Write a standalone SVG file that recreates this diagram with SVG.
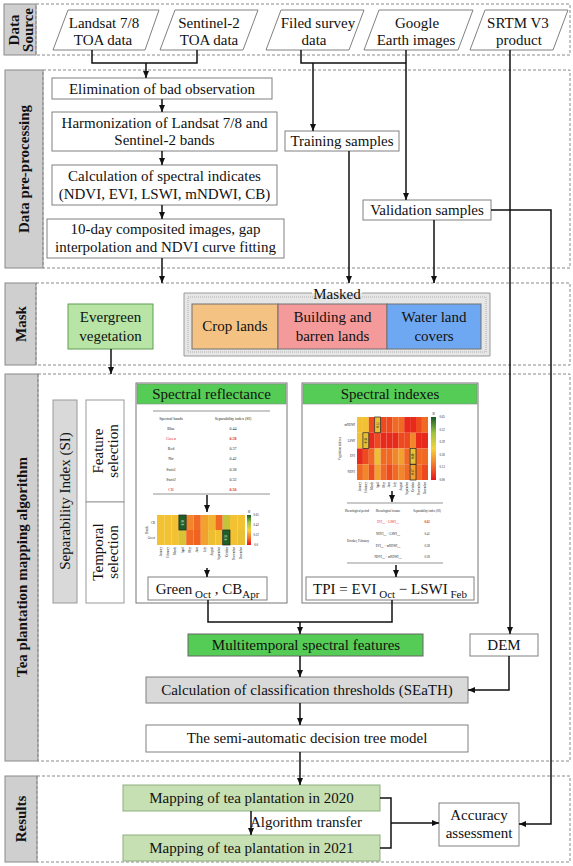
<svg xmlns="http://www.w3.org/2000/svg" width="573" height="866" viewBox="0 0 573 866">
<defs>
<marker id="ah" markerWidth="7" markerHeight="6" refX="7" refY="3" orient="auto" markerUnits="userSpaceOnUse"><path d="M0,0 L7,3 L0,6 z" fill="#111"/></marker>
<linearGradient id="cbar" x1="0" y1="1" x2="0" y2="0"><stop offset="0" stop-color="#e8141c"/><stop offset="0.25" stop-color="#f4792a"/><stop offset="0.5" stop-color="#f6d23a"/><stop offset="0.75" stop-color="#9cc43c"/><stop offset="1" stop-color="#145a28"/></linearGradient>
</defs>
<style>
.t{font-family:"Liberation Serif","Times New Roman",serif;font-size:15px;fill:#111;text-anchor:middle}
.b{font-weight:bold}
.lab{fill:#cfcfcf;stroke:#8a8a8a;stroke-width:1}
.dash{fill:none;stroke:#8a8a8a;stroke-width:1;stroke-dasharray:3,2}
.box{fill:#fff;stroke:#808080;stroke-width:1}
.c{fill:none;stroke:#111;stroke-width:1.5}
.ar{marker-end:url(#ah)}
.s{font-family:"Liberation Serif","Times New Roman",serif;font-size:4px;fill:#222;text-anchor:middle}
.x{font-family:"Liberation Serif","Times New Roman",serif;font-size:3px;fill:#222;text-anchor:middle}
.m{font-family:"Liberation Serif","Times New Roman",serif;font-size:3px;fill:#222;text-anchor:end}
.red{fill:#e0201c}
.tl{stroke:#666;stroke-width:0.7}
.hb{fill:none;stroke:#222;stroke-width:0.7}
</style>

<g id="sections">
<rect class="lab" x="4" y="4" width="32" height="51"/>
<rect class="dash" x="36" y="4" width="534" height="51"/>
<text class="t b" font-size="14" transform="translate(19,30) rotate(-90)">Data</text>
<text class="t b" font-size="14" transform="translate(32.5,30) rotate(-90)">Source</text>
<rect class="lab" x="5" y="70" width="38" height="198"/>
<rect class="dash" x="43" y="70" width="527" height="198"/>
<text class="t b" transform="translate(29,169) rotate(-90)">Data pre-processing</text>
<rect class="lab" x="5" y="283" width="31" height="82"/>
<rect class="dash" x="36" y="283" width="534" height="82"/>
<text class="t b" transform="translate(26,324) rotate(-90)">Mask</text>
<rect class="lab" x="5" y="374" width="33" height="387"/>
<rect class="dash" x="38" y="374" width="532" height="387"/>
<text class="t b" transform="translate(27,567) rotate(-90)">Tea plantation mapping algorithm</text>
<rect class="lab" x="5" y="776" width="32" height="86"/>
<rect class="dash" x="37" y="776" width="533" height="86"/>
<text class="t b" transform="translate(26,819) rotate(-90)">Results</text>
</g>

<g id="landsat"><polygon class="box" points="68,10 159,10 145,50 53,50"/><text class="t" x="104" y="28">Landsat 7/8</text><text class="t" x="103" y="45">TOA data</text></g>
<g id="sentinel"><polygon class="box" points="175,10 258,10 243,50 160,50"/><text class="t" x="209" y="28">Sentinel-2</text><text class="t" x="209" y="45">TOA data</text></g>
<g id="survey"><polygon class="box" points="281,10 364,10 349,50 266,50"/><text class="t" x="318" y="28">Filed survey</text><text class="t" x="314" y="45">data</text></g>
<g id="google"><polygon class="box" points="379,10 473,10 458,50 364,50"/><text class="t" x="417" y="28">Google</text><text class="t" x="416" y="45">Earth images</text></g>
<g id="srtm"><polygon class="box" points="485,10 568,10 553,50 470,50"/><text class="t" x="518" y="28">SRTM V3</text><text class="t" x="519" y="45">product</text></g>

<g id="elimination"><rect class="box" x="52" y="78" width="220" height="21"/><text class="t" x="162" y="93.5">Elimination of bad observation</text></g>
<g id="harmonization"><rect class="box" x="52" y="112" width="225" height="39"/><text class="t" x="164.5" y="128">Harmonization of Landsat 7/8 and</text><text class="t" x="164.5" y="145">Sentinel-2 bands</text></g>
<g id="calculation"><rect class="box" x="52" y="165" width="225" height="40"/><text class="t" x="164.5" y="181">Calculation of spectral indicates</text><text class="t" x="164.5" y="199">(NDVI, EVI, LSWI, mNDWI, CB)</text></g>
<g id="composite"><rect class="box" x="47" y="219" width="237" height="39"/><text class="t" x="165.5" y="234">10-day composited images, gap</text><text class="t" x="165.5" y="252">interpolation and NDVI curve fitting</text></g>
<g id="training"><rect class="box" x="285" y="131" width="114" height="20"/><text class="t" x="342" y="146">Training samples</text></g>
<g id="validation"><rect class="box" x="363" y="200" width="128" height="20"/><text class="t" x="427" y="215">Validation samples</text></g>

<g id="evergreen"><rect x="68" y="304" width="85" height="45" fill="#b8e5a6" stroke="#5f9e50"/><text class="t" x="110.5" y="322">Evergreen</text><text class="t" x="110.5" y="341">vegetation</text></g>
<g id="masked">
<rect x="184" y="293" width="306" height="63" fill="#e6e6e6"/>
<path d="M312,293 H184 V356 H490 V293 H362" fill="none" stroke="#9a9a9a"/>
<rect x="188" y="297" width="298" height="55" fill="none" stroke="#b0b0b0" stroke-dasharray="1,1"/>
<text class="t" x="337" y="299">Masked</text>
<rect x="192" y="304" width="86" height="45" fill="#f4c283" stroke="#707070"/>
<rect x="278" y="304" width="109" height="45" fill="#f59a9a" stroke="#707070"/>
<rect x="387" y="304" width="94" height="45" fill="#6fa8f2" stroke="#707070"/>
<text class="t" x="235" y="331">Crop lands</text>
<text class="t" x="332.5" y="322">Building and</text><text class="t" x="332.5" y="341">barren lands</text>
<text class="t" x="434" y="322">Water land</text><text class="t" x="434" y="341">covers</text>
</g>

<g id="si">
<rect x="53" y="400" width="24" height="203" fill="#d9d9d9" stroke="#999"/>
<text class="t" font-size="14" transform="translate(70,501) rotate(-90)">Separability Index (SI)</text>
</g>
<g id="feature-selection"><rect x="86" y="400" width="38" height="102" fill="#fff" stroke="#999"/><text class="t" font-size="14" transform="translate(103,451) rotate(-90)">Feature</text><text class="t" font-size="14" transform="translate(118,451) rotate(-90)">selection</text></g>
<g id="temporal-selection"><rect x="86" y="502" width="38" height="101" fill="#fff" stroke="#999"/><text class="t" font-size="14" transform="translate(103,552) rotate(-90)">Temporal</text><text class="t" font-size="14" transform="translate(118,552) rotate(-90)">selection</text></g>

<g id="spectral-reflectance">
<rect x="136" y="383" width="151" height="220" fill="#fff" stroke="#777"/>
<rect x="137" y="384" width="149" height="20" fill="#55cc55" stroke="#888" stroke-width="0.6"/>
<text class="t" x="211.5" y="399">Spectral reflectance</text>
<line class="tl" x1="153" y1="411" x2="270" y2="411"/>
<text class="s" x="171" y="419.5">Spectral bands</text><text class="s" x="233" y="419.5">Separability index (SI)</text>
<text class="s" x="171" y="429.5">Blue</text><text class="s" x="233" y="429.5">0.44</text>
<text class="s red" x="171" y="439.5">Green</text><text class="s red b" x="233" y="439.5">0.58</text>
<text class="s" x="171" y="450">Red</text><text class="s" x="233" y="450">0.37</text>
<text class="s" x="171" y="460">Nir</text><text class="s" x="233" y="460">0.42</text>
<text class="s" x="171" y="470.5">Swir1</text><text class="s" x="233" y="470.5">0.38</text>
<text class="s" x="171" y="480.5">Swir2</text><text class="s" x="233" y="480.5">0.32</text>
<text class="s red" x="171" y="490.5">CB</text><text class="s red b" x="233" y="490.5">0.50</text>
<line class="tl" x1="153" y1="494" x2="270" y2="494"/>
<g id="heatmap-reflectance">
<rect x="157" y="515" width="7.3" height="15" fill="#f2c232"/><rect x="164.3" y="515" width="7.3" height="15" fill="#f2c232"/><rect x="171.6" y="515" width="7.3" height="15" fill="#f2c232"/><rect x="178.9" y="515" width="7.3" height="15" fill="#1f5f2a"/><rect x="186.2" y="515" width="7.3" height="15" fill="#f2862a"/><rect x="193.5" y="515" width="7.3" height="15" fill="#f06a24"/><rect x="200.8" y="515" width="7.3" height="15" fill="#f2a02e"/><rect x="208.1" y="515" width="7.3" height="15" fill="#f2b430"/><rect x="215.4" y="515" width="7.3" height="15" fill="#f06a24"/><rect x="222.7" y="515" width="7.3" height="15" fill="#c4c43a"/><rect x="230" y="515" width="7.3" height="15" fill="#f2c232"/><rect x="237.3" y="515" width="7.7" height="15" fill="#f2c232"/>
<rect x="157" y="530" width="7.3" height="15" fill="#f2c232"/><rect x="164.3" y="530" width="7.3" height="15" fill="#f2c232"/><rect x="171.6" y="530" width="7.3" height="15" fill="#f2c232"/><rect x="178.9" y="530" width="7.3" height="15" fill="#d8c236"/><rect x="186.2" y="530" width="7.3" height="15" fill="#f06a24"/><rect x="193.5" y="530" width="7.3" height="15" fill="#f0621f"/><rect x="200.8" y="530" width="7.3" height="15" fill="#f2a02e"/><rect x="208.1" y="530" width="7.3" height="15" fill="#ecbe32"/><rect x="215.4" y="530" width="7.3" height="15" fill="#f2c232"/><rect x="222.7" y="530" width="7.3" height="15" fill="#1f5f2a"/><rect x="230" y="530" width="7.3" height="15" fill="#f2c232"/><rect x="237.3" y="530" width="7.7" height="15" fill="#e8c234"/>
<rect class="hb" x="178.9" y="515" width="7.3" height="15"/><rect class="hb" x="222.7" y="530" width="7.3" height="15"/>
<text class="x" fill="#dde" transform="translate(183.6,522.5) rotate(-90)" style="fill:#d8e8d0">0.50</text>
<text class="x" transform="translate(227.4,537.5) rotate(-90)" style="fill:#d8e8d0">0.58</text>
<rect x="247" y="515" width="4" height="30" fill="url(#cbar)"/>
<text class="x" x="249" y="513">SI</text>
<text class="x" x="256" y="516">0.65</text><text class="x" x="256" y="526">0.43</text><text class="x" x="256" y="536">0.22</text><text class="x" x="256" y="546">0.0</text>
<text class="m" x="155" y="523.5">CB</text><text class="m" x="155" y="538.5">Green</text>
<text class="x" transform="translate(148,530) rotate(-90)">Bands</text>
<text class="m" transform="translate(161.8,547) rotate(-90)">January</text><text class="m" transform="translate(169.1,547) rotate(-90)">February</text><text class="m" transform="translate(176.4,547) rotate(-90)">March</text><text class="m" transform="translate(183.7,547) rotate(-90)">April</text><text class="m" transform="translate(191,547) rotate(-90)">May</text><text class="m" transform="translate(198.3,547) rotate(-90)">June</text><text class="m" transform="translate(205.6,547) rotate(-90)">July</text><text class="m" transform="translate(212.9,547) rotate(-90)">August</text><text class="m" transform="translate(220.2,547) rotate(-90)">September</text><text class="m" transform="translate(227.5,547) rotate(-90)">October</text><text class="m" transform="translate(234.8,547) rotate(-90)">November</text><text class="m" transform="translate(242.1,547) rotate(-90)">December</text>
</g>
</g>
<g id="green-cb"><rect class="box" x="148" y="577" width="119" height="23"/><text class="t" font-size="16" x="207.5" y="594">Green<tspan font-size="11" dy="4"> Oct</tspan><tspan dy="-4"> , CB</tspan><tspan font-size="11" dy="4">Apr</tspan></text></g>

<g id="spectral-indexes">
<rect x="302" y="383" width="176" height="220" fill="#fff" stroke="#777"/>
<rect x="303" y="384" width="174" height="20" fill="#55cc55" stroke="#888" stroke-width="0.6"/>
<text class="t" x="390" y="399">Spectral indexes</text>
<g id="heatmap-indexes">
<rect x="357" y="417" width="5.9" height="15.75" fill="#f2c232"/><rect x="362.9" y="417" width="5.9" height="15.75" fill="#f2c232"/><rect x="368.8" y="417" width="5.9" height="15.75" fill="#ee4a20"/><rect x="374.7" y="417" width="5.9" height="15.75" fill="#eac034"/><rect x="380.6" y="417" width="5.9" height="15.75" fill="#ee4a20"/><rect x="386.5" y="417" width="5.9" height="15.75" fill="#ee4a20"/><rect x="392.4" y="417" width="5.9" height="15.75" fill="#f06a24"/><rect x="398.3" y="417" width="5.9" height="15.75" fill="#f06a24"/><rect x="404.2" y="417" width="5.9" height="15.75" fill="#e82a1c"/><rect x="410.1" y="417" width="5.9" height="15.75" fill="#e82a1c"/><rect x="416" y="417" width="5.9" height="15.75" fill="#ee4a20"/><rect x="421.9" y="417" width="6.1" height="15.75" fill="#f06a24"/>
<rect x="357" y="432.75" width="5.9" height="15.75" fill="#f2c232"/><rect x="362.9" y="432.75" width="5.9" height="15.75" fill="#e4c036"/><rect x="368.8" y="432.75" width="5.9" height="15.75" fill="#e82a1c"/><rect x="374.7" y="432.75" width="5.9" height="15.75" fill="#ee4a20"/><rect x="380.6" y="432.75" width="5.9" height="15.75" fill="#e82a1c"/><rect x="386.5" y="432.75" width="5.9" height="15.75" fill="#e82a1c"/><rect x="392.4" y="432.75" width="5.9" height="15.75" fill="#e82a1c"/><rect x="398.3" y="432.75" width="5.9" height="15.75" fill="#ee4a20"/><rect x="404.2" y="432.75" width="5.9" height="15.75" fill="#ee4a20"/><rect x="410.1" y="432.75" width="5.9" height="15.75" fill="#f2862a"/><rect x="416" y="432.75" width="5.9" height="15.75" fill="#e82a1c"/><rect x="421.9" y="432.75" width="6.1" height="15.75" fill="#e82a1c"/>
<rect x="357" y="448.5" width="5.9" height="15.75" fill="#e82a1c"/><rect x="362.9" y="448.5" width="5.9" height="15.75" fill="#ee4a20"/><rect x="368.8" y="448.5" width="5.9" height="15.75" fill="#f06a24"/><rect x="374.7" y="448.5" width="5.9" height="15.75" fill="#eac034"/><rect x="380.6" y="448.5" width="5.9" height="15.75" fill="#f06a24"/><rect x="386.5" y="448.5" width="5.9" height="15.75" fill="#f06a24"/><rect x="392.4" y="448.5" width="5.9" height="15.75" fill="#f2862a"/><rect x="398.3" y="448.5" width="5.9" height="15.75" fill="#f2a02e"/><rect x="404.2" y="448.5" width="5.9" height="15.75" fill="#f06a24"/><rect x="410.1" y="448.5" width="5.9" height="15.75" fill="#e6c036"/><rect x="416" y="448.5" width="5.9" height="15.75" fill="#f06a24"/><rect x="421.9" y="448.5" width="6.1" height="15.75" fill="#f06a24"/>
<rect x="357" y="464.25" width="5.9" height="15.75" fill="#f06a24"/><rect x="362.9" y="464.25" width="5.9" height="15.75" fill="#f2862a"/><rect x="368.8" y="464.25" width="5.9" height="15.75" fill="#ee4a20"/><rect x="374.7" y="464.25" width="5.9" height="15.75" fill="#f2a02e"/><rect x="380.6" y="464.25" width="5.9" height="15.75" fill="#f06a24"/><rect x="386.5" y="464.25" width="5.9" height="15.75" fill="#ee4a20"/><rect x="392.4" y="464.25" width="5.9" height="15.75" fill="#f06a24"/><rect x="398.3" y="464.25" width="5.9" height="15.75" fill="#f2862a"/><rect x="404.2" y="464.25" width="5.9" height="15.75" fill="#f06a24"/><rect x="410.1" y="464.25" width="5.9" height="15.75" fill="#f2a02e"/><rect x="416" y="464.25" width="5.9" height="15.75" fill="#f06a24"/><rect x="421.9" y="464.25" width="6.1" height="15.75" fill="#ee4a20"/>
<rect class="hb" x="374.7" y="417" width="5.9" height="15.75"/><rect class="hb" x="362.9" y="432.75" width="5.9" height="15.75"/><rect class="hb" x="410.1" y="448.5" width="5.9" height="15.75"/><rect class="hb" x="410.1" y="464.25" width="5.9" height="15.75"/>
<text class="x" font-size="2.6" transform="translate(378.6,424.9) rotate(-90)">0.32</text>
<text class="x" font-size="2.6" transform="translate(366.8,440.6) rotate(-90)">0.38</text>
<text class="x" font-size="2.6" transform="translate(414,456.4) rotate(-90)">0.40</text>
<text class="x" font-size="2.6" transform="translate(414,472.1) rotate(-90)">0.37</text>
<rect x="431" y="417" width="5" height="63" fill="url(#cbar)"/>
<text class="x" x="433.5" y="415">SI</text>
<text class="x" font-size="2.6" x="442" y="418">0.65</text><text class="x" font-size="2.6" x="442" y="430.6">0.52</text><text class="x" font-size="2.6" x="442" y="443.2">0.39</text><text class="x" font-size="2.6" x="442" y="455.8">0.26</text><text class="x" font-size="2.6" x="442" y="468.4">0.13</text><text class="x" font-size="2.6" x="442" y="481">0.00</text>
<text class="m" font-size="2.6" x="355" y="425.8">mNDWI</text><text class="m" font-size="2.6" x="355" y="441.6">LSWI</text><text class="m" font-size="2.6" x="355" y="457.3">EVI</text><text class="m" font-size="2.6" x="355" y="473.1">NDVI</text>
<text class="x" font-size="2.8" transform="translate(341,448.5) rotate(-90)">Vegetation indexes</text>
<text class="m" font-size="2.6" transform="translate(360.9,482) rotate(-90)">January</text><text class="m" font-size="2.6" transform="translate(366.8,482) rotate(-90)">February</text><text class="m" font-size="2.6" transform="translate(372.7,482) rotate(-90)">March</text><text class="m" font-size="2.6" transform="translate(378.6,482) rotate(-90)">April</text><text class="m" font-size="2.6" transform="translate(384.5,482) rotate(-90)">May</text><text class="m" font-size="2.6" transform="translate(390.4,482) rotate(-90)">June</text><text class="m" font-size="2.6" transform="translate(396.3,482) rotate(-90)">July</text><text class="m" font-size="2.6" transform="translate(402.2,482) rotate(-90)">August</text><text class="m" font-size="2.6" transform="translate(408.1,482) rotate(-90)">September</text><text class="m" font-size="2.6" transform="translate(414,482) rotate(-90)">October</text><text class="m" font-size="2.6" transform="translate(419.9,482) rotate(-90)">November</text><text class="m" font-size="2.6" transform="translate(425.8,482) rotate(-90)">December</text>
</g>
<line class="tl" x1="347" y1="503" x2="443" y2="503"/>
<text class="x" x="357" y="512">Phenological period</text><text class="x" x="388" y="512">Phenological feature</text><text class="x" x="427" y="512">Separability index (SI)</text>
<text class="x red" x="388" y="523">EVI<tspan font-size="2" dy="0.8">Oct</tspan><tspan dy="-0.8"> − LSWI</tspan><tspan font-size="2" dy="0.8">Feb</tspan></text><text class="x red b" x="427" y="523">0.62</text>
<text class="x" x="388" y="535">NDVI<tspan font-size="2" dy="0.8">Oct</tspan><tspan dy="-0.8"> − LSWI</tspan><tspan font-size="2" dy="0.8">Feb</tspan></text><text class="x" x="427" y="535">0.41</text>
<text class="x" x="358" y="541.5">October, February</text>
<text class="x" x="388" y="547">EVI<tspan font-size="2" dy="0.8">Oct</tspan><tspan dy="-0.8"> − mNDWI</tspan><tspan font-size="2" dy="0.8">Feb</tspan></text><text class="x" x="427" y="547">0.38</text>
<text class="x" x="388" y="558">NDVI<tspan font-size="2" dy="0.8">Oct</tspan><tspan dy="-0.8"> − mNDWI</tspan><tspan font-size="2" dy="0.8">Feb</tspan></text><text class="x" x="427" y="558">0.28</text>
<line class="tl" x1="347" y1="563" x2="443" y2="563"/>
</g>
<g id="tpi"><rect class="box" x="306" y="577" width="168" height="23"/><text class="t" font-size="16" x="390" y="594">TPI = EVI<tspan font-size="11" dy="4"> Oct</tspan><tspan dy="-4"> − LSWI</tspan><tspan font-size="11" dy="4"> Feb</tspan></text></g>

<g id="multitemporal"><rect x="188" y="634" width="235" height="22" fill="#55cc55" stroke="#666"/><text class="t" x="306" y="650">Multitemporal spectral features</text></g>
<g id="dem"><rect class="box" x="470" y="634" width="68" height="22"/><text class="t" x="504" y="650">DEM</text></g>
<g id="seath"><rect x="146" y="677" width="322" height="26" fill="#d9d9d9" stroke="#808080"/><text class="t" x="307" y="695">Calculation of classification thresholds (SEaTH)</text></g>
<g id="decision-tree"><rect class="box" x="146" y="725" width="322" height="27"/><text class="t" x="307" y="743">The semi-automatic decision tree model</text></g>

<g id="map2020"><rect x="123" y="785" width="257" height="26" fill="#c6e0b4" stroke="#8fae7e"/><text class="t" x="251.5" y="803">Mapping of tea plantation in 2020</text></g>
<g id="map2021"><rect x="123" y="835" width="257" height="26" fill="#c6e0b4" stroke="#8fae7e"/><text class="t" x="251.5" y="853">Mapping of tea plantation in 2021</text></g>
<g id="accuracy"><rect class="box" x="439" y="803" width="80" height="43"/><text class="t" x="479" y="820">Accuracy</text><text class="t" x="479" y="838">assessment</text></g>

<g id="connectors">
<path class="c" d="M92,50 V63 H197 V50"/>
<path class="c ar" d="M146,63 V78"/>
<path class="c" d="M301,50 V63 H406"/>
<path class="c ar" d="M406,50 V200"/>
<path class="c ar" d="M313,63 V131"/>
<path class="c ar" d="M510,50 V634"/>
<path class="c ar" d="M162,99 V112"/>
<path class="c ar" d="M162,151 V165"/>
<path class="c ar" d="M162,205 V219"/>
<path class="c ar" d="M162,258 V283"/>
<path class="c ar" d="M349,151 V283"/>
<path class="c ar" d="M434,220 V283"/>
<path class="c ar" d="M491,210 H551 V824 H519"/>
<path class="c ar" d="M111,349 V374"/>
<path class="c ar" d="M207,495 V512"/>
<path class="c ar" d="M207,568 V577"/>
<path class="c ar" d="M392,491 V502"/>
<path class="c ar" d="M396,565 V577"/>
<path class="c" d="M208,600 V622 H392 V600"/>
<path class="c ar" d="M300,622 V634"/>
<path class="c ar" d="M300,656 V677"/>
<path class="c ar" d="M300,703 V725"/>
<path class="c ar" d="M300,752 V785"/>
<path class="c ar" d="M509,656 V690 H468"/>
<path class="c ar" d="M251,811 V835"/>
<path class="c" d="M380,798 H391 V848 H380"/>
<path class="c ar" d="M391,823 H439"/>
<text class="t" font-size="12" x="306" y="827">Algorithm transfer</text>
</g>
</svg>
